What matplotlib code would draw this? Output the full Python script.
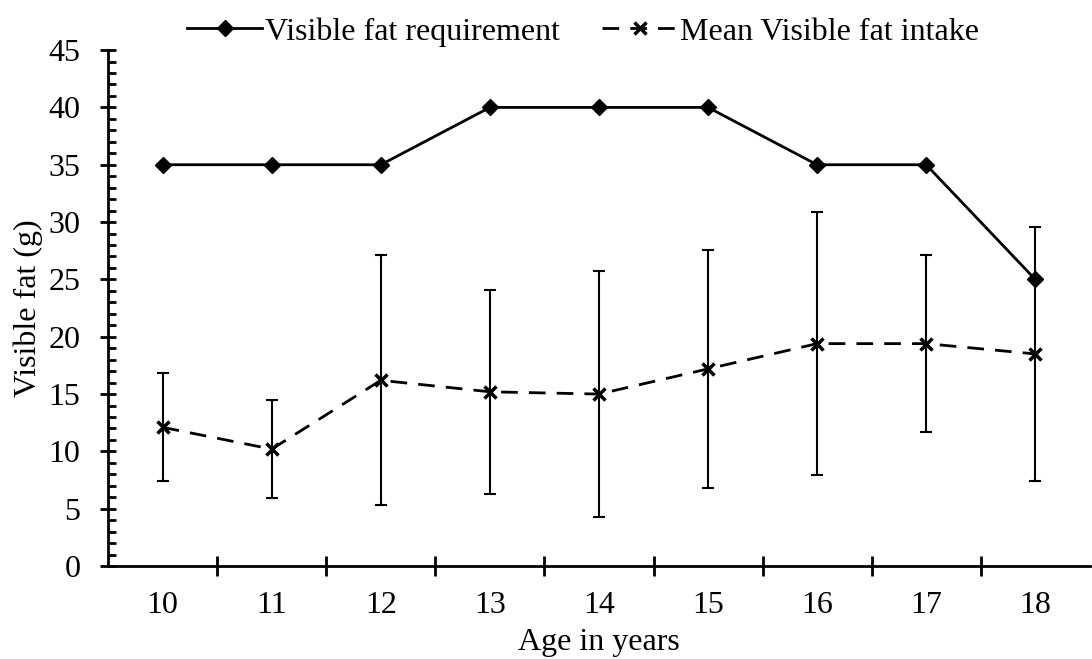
import numpy as np
import matplotlib
matplotlib.use('Agg')
import matplotlib.pyplot as plt
from matplotlib.ticker import MultipleLocator, FixedLocator

# Visible fat requirement vs. mean intake by age
ages = ['10', '11', '12', '13', '14', '15', '16', '17', '18']
requirement = [35, 35, 35, 40, 40, 40, 35, 35, 25]
mean_intake = [12.1, 10.2, 16.2, 15.2, 15.0, 17.2, 19.4, 19.4, 18.5]
intake_sd = [4.7, 4.3, 10.9, 8.9, 10.7, 10.4, 11.5, 7.7, 11.1]

plt.rcParams['font.family'] = 'Liberation Serif'
FS = 23

fig = plt.figure(figsize=(10.92, 6.59), dpi=100)
ax = fig.add_axes([0.099, 0.141, 0.899, 0.783])

x = np.arange(len(ages))
ax.errorbar(x, mean_intake, yerr=intake_sd, fmt='none', ecolor='black',
            elinewidth=1.5, capsize=4.5, capthick=1.5)
ax.plot(x, requirement, color='black', linewidth=2, marker='D', markersize=8,
        label='Visible fat requirement')
ax.plot(x, mean_intake, color='black', linewidth=2, dashes=(6, 4),
        marker='x', markersize=9, markeredgewidth=2.5,
        label='Mean Visible fat intake')

ax.set_ylim(0, 45)
ax.set_xlim(-0.5, 8.5)
ax.yaxis.set_major_locator(MultipleLocator(5))
ax.yaxis.set_minor_locator(MultipleLocator(1))
ax.set_xticks(x)
ax.set_xticklabels(ages)
ax.xaxis.set_minor_locator(FixedLocator(np.arange(0.5, len(ages) - 1, 1)))

ax.tick_params(axis='x', which='major', length=0, labelsize=FS, pad=18)
ax.tick_params(axis='x', which='minor', direction='inout', length=14, width=2)
ax.tick_params(axis='y', which='major', direction='inout', length=12, width=2, labelsize=FS, pad=14)
ax.tick_params(axis='y', which='minor', direction='in', length=6, width=2)

for side in ['top', 'right']:
    ax.spines[side].set_visible(False)
for side in ['left', 'bottom']:
    ax.spines[side].set_linewidth(2)

ax.set_xlabel('Age in years', fontsize=FS, labelpad=6)
ax.set_ylabel('Visible fat (g)', fontsize=FS, labelpad=4)

ax.legend(loc='lower center', bbox_to_anchor=(0.484, 0.982), ncol=2, frameon=False,
          fontsize=FS, handlelength=2.35, columnspacing=1.3, handletextpad=0.1,
          borderaxespad=0)

fig.savefig('out.png', dpi=100)
